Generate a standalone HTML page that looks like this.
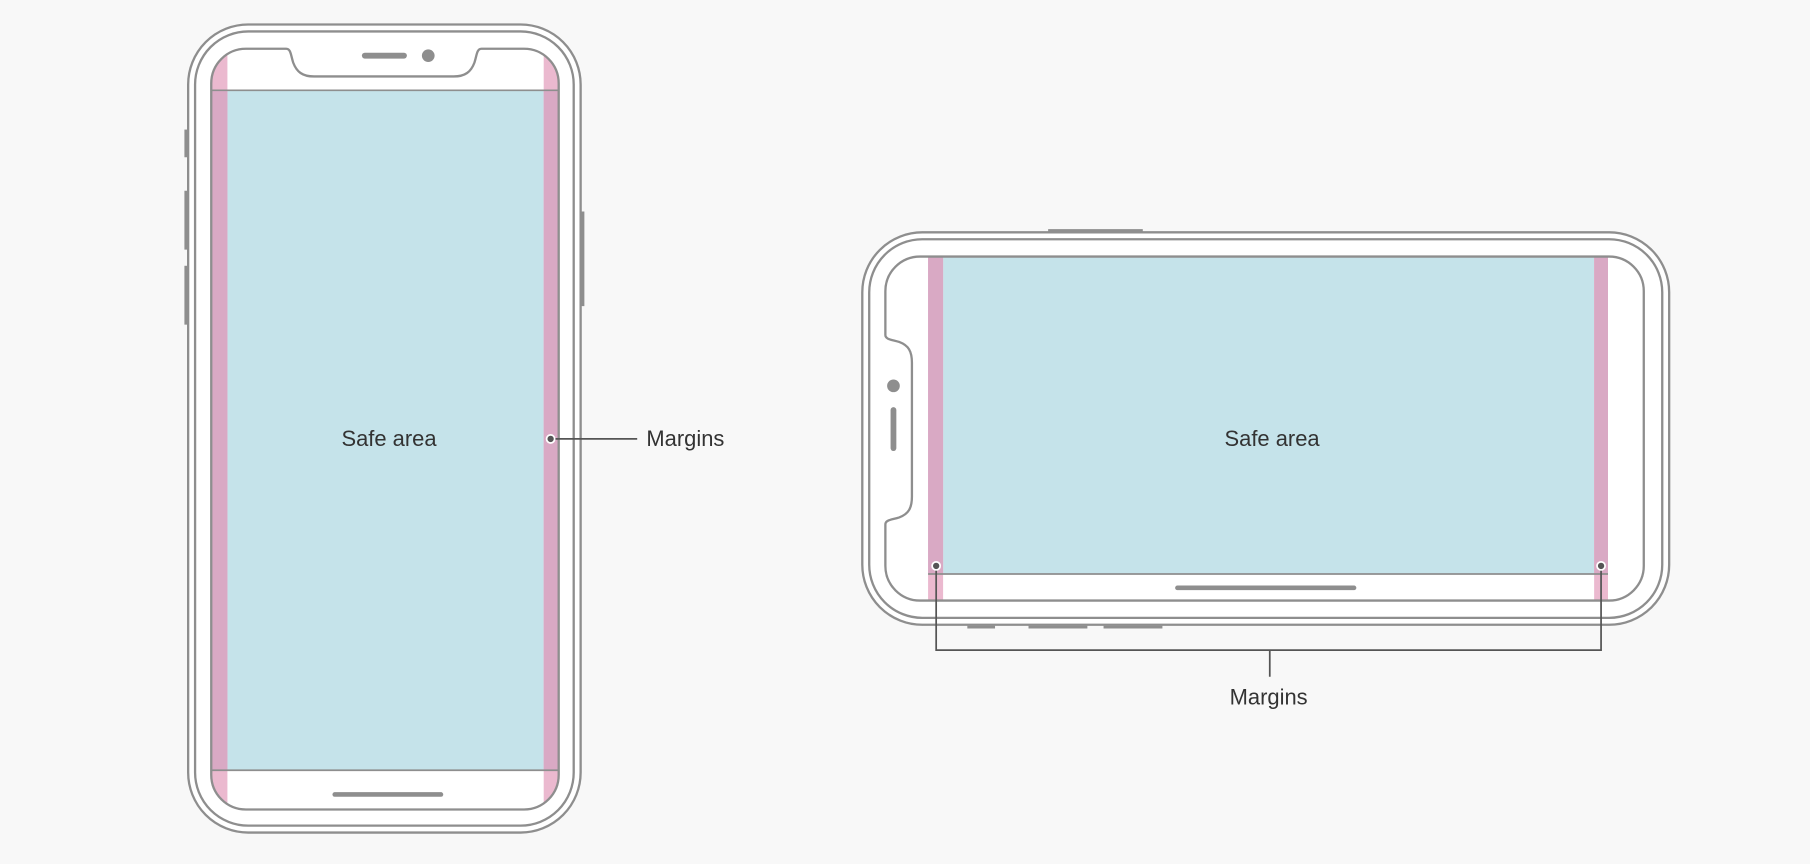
<!DOCTYPE html>
<html><head><meta charset="utf-8"><style>
html,body{margin:0;padding:0;background:#f8f8f8;}
svg{display:block}
text{font-family:"Liberation Sans",sans-serif;font-size:19px;fill:#333}
</style></head><body>
<svg width="1810" height="864" viewBox="0 0 1568 748" xmlns="http://www.w3.org/2000/svg">
<rect width="1568" height="748" fill="#f8f8f8"/>
<defs>
<clipPath id="ps"><path d="M213,42 H248 C252,42 252,48 254,54 C257,62 262,66 272,66 H393 C403,66 408,62 411,54 C413,48 413,42 417,42 H454 A30,30 0 0 1 484,72 V671 A30,30 0 0 1 454,701 H213 A30,30 0 0 1 183,671 V72 A30,30 0 0 1 213,42 Z"/></clipPath>
<clipPath id="ls"><path d="M797,222 H1394 A30,30 0 0 1 1424,252 V490 A30,30 0 0 1 1394,520 H797 A30,30 0 0 1 767,490 V454 C767,450 773,450 779,448 C787,445 790,440 790,430 V314 C790,304 787,299 779,296 C773,294 767,294 767,290 V252 A30,30 0 0 1 797,222 Z"/></clipPath>
</defs>
<g fill="none" stroke="#8e8e8e" stroke-width="2">
<!-- portrait -->
<rect x="163" y="21" width="340" height="700" rx="52" fill="#fff"/>
<rect x="169" y="27" width="328" height="688" rx="46"/>
</g>
<g clip-path="url(#ps)">
<rect x="183" y="42" width="301" height="659" fill="#fff"/>
<rect x="197" y="78" width="274" height="589" fill="#c5e3ea"/>
<rect x="183" y="42" width="14" height="659" fill="#ebb9cf"/>
<rect x="471" y="42" width="13" height="659" fill="#ebb9cf"/>
<rect x="183" y="78" width="14" height="589" fill="#d9a9c4"/>
<rect x="471" y="78" width="13" height="589" fill="#d9a9c4"/>
<line x1="183" y1="78" x2="484" y2="78" stroke="#8e8e8e" stroke-width="1.5"/>
<line x1="183" y1="667" x2="484" y2="667" stroke="#8e8e8e" stroke-width="1.5"/>
</g>
<path d="M213,42 H248 C252,42 252,48 254,54 C257,62 262,66 272,66 H393 C403,66 408,62 411,54 C413,48 413,42 417,42 H454 A30,30 0 0 1 484,72 V671 A30,30 0 0 1 454,701 H213 A30,30 0 0 1 183,671 V72 A30,30 0 0 1 213,42 Z" fill="none" stroke="#8e8e8e" stroke-width="2"/>
<line x1="316" y1="48" x2="350" y2="48" stroke="#8e8e8e" stroke-width="5" stroke-linecap="round"/>
<circle cx="371" cy="48" r="5.5" fill="#8e8e8e"/>
<line x1="290" y1="688" x2="382" y2="688" stroke="#8e8e8e" stroke-width="4" stroke-linecap="round"/>
<g stroke="#8e8e8e" stroke-width="2.5">
<line x1="161" y1="112" x2="161" y2="136"/><line x1="161" y1="165" x2="161" y2="216"/><line x1="161" y1="230" x2="161" y2="281"/>
<line x1="505" y1="183" x2="505" y2="265"/>
</g>
<text x="337" y="386" text-anchor="middle">Safe area</text>
<line x1="477" y1="380" x2="552" y2="380" stroke="#555" stroke-width="1.5"/>
<circle cx="477" cy="380" r="3.5" fill="#555" stroke="#fff" stroke-width="1.5"/>
<text x="560" y="386">Margins</text>

<!-- landscape -->
<g stroke="#8e8e8e" stroke-width="2.5">
<line x1="908" y1="199.5" x2="990" y2="199.5"/>
<line x1="838" y1="543" x2="862" y2="543"/><line x1="891" y1="543" x2="942" y2="543"/><line x1="956" y1="543" x2="1007" y2="543"/>
</g>
<g fill="none" stroke="#8e8e8e" stroke-width="2">
<rect x="747" y="201" width="699" height="340" rx="52" fill="#fff"/>
<rect x="753" y="207" width="687" height="328" rx="46"/>
</g>
<g clip-path="url(#ls)">
<rect x="767" y="222" width="657" height="298" fill="#fff"/>
<rect x="817" y="222" width="564" height="275" fill="#c5e3ea"/>
<rect x="804" y="222" width="13" height="298" fill="#ebb9cf"/>
<rect x="1381" y="222" width="12" height="298" fill="#ebb9cf"/>
<rect x="804" y="222" width="13" height="275" fill="#d9a9c4"/>
<rect x="1381" y="222" width="12" height="275" fill="#d9a9c4"/>
<line x1="804" y1="497" x2="1393" y2="497" stroke="#8e8e8e" stroke-width="1.5"/>
</g>
<path d="M797,222 H1394 A30,30 0 0 1 1424,252 V490 A30,30 0 0 1 1394,520 H797 A30,30 0 0 1 767,490 V454 C767,450 773,450 779,448 C787,445 790,440 790,430 V314 C790,304 787,299 779,296 C773,294 767,294 767,290 V252 A30,30 0 0 1 797,222 Z" fill="none" stroke="#8e8e8e" stroke-width="2"/>
<circle cx="774" cy="334" r="5.5" fill="#8e8e8e"/>
<line x1="774" y1="355" x2="774" y2="388" stroke="#8e8e8e" stroke-width="5" stroke-linecap="round"/>
<line x1="1020" y1="509" x2="1173" y2="509" stroke="#8e8e8e" stroke-width="4" stroke-linecap="round"/>
<text x="1102" y="386" text-anchor="middle">Safe area</text>
<path d="M811,490 V563 H1387 V490 M1100,563 V586" fill="none" stroke="#555" stroke-width="1.5"/>
<circle cx="811" cy="490" r="3.5" fill="#555" stroke="#fff" stroke-width="1.5"/>
<circle cx="1387" cy="490" r="3.5" fill="#555" stroke="#fff" stroke-width="1.5"/>
<text x="1099" y="610" text-anchor="middle">Margins</text>
</svg>
</body></html>
